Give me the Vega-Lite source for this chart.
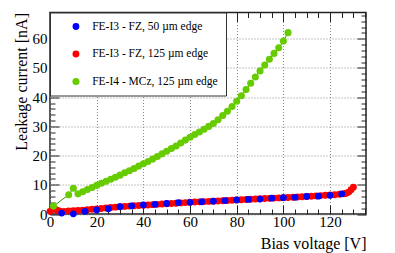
{
  "$schema": "https://vega.github.io/schema/vega-lite/v6.json",
  "autosize": {"type": "none"},
  "padding": {"left": 50, "top": 12.5, "right": 29, "bottom": 39},
  "width": 316,
  "height": 201.5,
  "background": "white",
  "config": {
    "view": {"stroke": "#222", "strokeWidth": 1.5},
    "font": "Liberation Serif",
    "axis": {"labelFont": "Liberation Serif", "titleFont": "Liberation Serif"},
    "legend": {"labelFont": "Liberation Serif"}
  },
  "datasets": {
    "iv": [
      {"s": "FE-I3 - FZ, 125 µm edge", "V": 0, "I": 0.9},
      {"s": "FE-I3 - FZ, 125 µm edge", "V": 1, "I": 1.5},
      {"s": "FE-I3 - FZ, 125 µm edge", "V": 2, "I": 1.7},
      {"s": "FE-I3 - FZ, 125 µm edge", "V": 3, "I": 1.3},
      {"s": "FE-I3 - FZ, 125 µm edge", "V": 4, "I": 1.0},
      {"s": "FE-I3 - FZ, 125 µm edge", "V": 6, "I": 0.9},
      {"s": "FE-I3 - FZ, 125 µm edge", "V": 8, "I": 1.0},
      {"s": "FE-I3 - FZ, 125 µm edge", "V": 10, "I": 1.1},
      {"s": "FE-I3 - FZ, 125 µm edge", "V": 12, "I": 1.2},
      {"s": "FE-I3 - FZ, 125 µm edge", "V": 14, "I": 1.3},
      {"s": "FE-I3 - FZ, 125 µm edge", "V": 16, "I": 1.45},
      {"s": "FE-I3 - FZ, 125 µm edge", "V": 18, "I": 1.6},
      {"s": "FE-I3 - FZ, 125 µm edge", "V": 20, "I": 1.75},
      {"s": "FE-I3 - FZ, 125 µm edge", "V": 22, "I": 1.9},
      {"s": "FE-I3 - FZ, 125 µm edge", "V": 24, "I": 2.05},
      {"s": "FE-I3 - FZ, 125 µm edge", "V": 26, "I": 2.2},
      {"s": "FE-I3 - FZ, 125 µm edge", "V": 28, "I": 2.35},
      {"s": "FE-I3 - FZ, 125 µm edge", "V": 30, "I": 2.5},
      {"s": "FE-I3 - FZ, 125 µm edge", "V": 32, "I": 2.6},
      {"s": "FE-I3 - FZ, 125 µm edge", "V": 34, "I": 2.7},
      {"s": "FE-I3 - FZ, 125 µm edge", "V": 36, "I": 2.8},
      {"s": "FE-I3 - FZ, 125 µm edge", "V": 38, "I": 2.9},
      {"s": "FE-I3 - FZ, 125 µm edge", "V": 40, "I": 3.0},
      {"s": "FE-I3 - FZ, 125 µm edge", "V": 42, "I": 3.1},
      {"s": "FE-I3 - FZ, 125 µm edge", "V": 44, "I": 3.2},
      {"s": "FE-I3 - FZ, 125 µm edge", "V": 46, "I": 3.3},
      {"s": "FE-I3 - FZ, 125 µm edge", "V": 48, "I": 3.4},
      {"s": "FE-I3 - FZ, 125 µm edge", "V": 50, "I": 3.5},
      {"s": "FE-I3 - FZ, 125 µm edge", "V": 52, "I": 3.6},
      {"s": "FE-I3 - FZ, 125 µm edge", "V": 54, "I": 3.7},
      {"s": "FE-I3 - FZ, 125 µm edge", "V": 56, "I": 3.8},
      {"s": "FE-I3 - FZ, 125 µm edge", "V": 58, "I": 3.9},
      {"s": "FE-I3 - FZ, 125 µm edge", "V": 60, "I": 4.0},
      {"s": "FE-I3 - FZ, 125 µm edge", "V": 62, "I": 4.08},
      {"s": "FE-I3 - FZ, 125 µm edge", "V": 64, "I": 4.16},
      {"s": "FE-I3 - FZ, 125 µm edge", "V": 66, "I": 4.24},
      {"s": "FE-I3 - FZ, 125 µm edge", "V": 68, "I": 4.32},
      {"s": "FE-I3 - FZ, 125 µm edge", "V": 70, "I": 4.4},
      {"s": "FE-I3 - FZ, 125 µm edge", "V": 72, "I": 4.48},
      {"s": "FE-I3 - FZ, 125 µm edge", "V": 74, "I": 4.56},
      {"s": "FE-I3 - FZ, 125 µm edge", "V": 76, "I": 4.64},
      {"s": "FE-I3 - FZ, 125 µm edge", "V": 78, "I": 4.72},
      {"s": "FE-I3 - FZ, 125 µm edge", "V": 80, "I": 4.8},
      {"s": "FE-I3 - FZ, 125 µm edge", "V": 82, "I": 4.88},
      {"s": "FE-I3 - FZ, 125 µm edge", "V": 84, "I": 4.96},
      {"s": "FE-I3 - FZ, 125 µm edge", "V": 86, "I": 5.04},
      {"s": "FE-I3 - FZ, 125 µm edge", "V": 88, "I": 5.12},
      {"s": "FE-I3 - FZ, 125 µm edge", "V": 90, "I": 5.2},
      {"s": "FE-I3 - FZ, 125 µm edge", "V": 92, "I": 5.28},
      {"s": "FE-I3 - FZ, 125 µm edge", "V": 94, "I": 5.36},
      {"s": "FE-I3 - FZ, 125 µm edge", "V": 96, "I": 5.44},
      {"s": "FE-I3 - FZ, 125 µm edge", "V": 98, "I": 5.52},
      {"s": "FE-I3 - FZ, 125 µm edge", "V": 100, "I": 5.6},
      {"s": "FE-I3 - FZ, 125 µm edge", "V": 102, "I": 5.68},
      {"s": "FE-I3 - FZ, 125 µm edge", "V": 104, "I": 5.76},
      {"s": "FE-I3 - FZ, 125 µm edge", "V": 106, "I": 5.84},
      {"s": "FE-I3 - FZ, 125 µm edge", "V": 108, "I": 5.92},
      {"s": "FE-I3 - FZ, 125 µm edge", "V": 110, "I": 6.0},
      {"s": "FE-I3 - FZ, 125 µm edge", "V": 112, "I": 6.1},
      {"s": "FE-I3 - FZ, 125 µm edge", "V": 114, "I": 6.2},
      {"s": "FE-I3 - FZ, 125 µm edge", "V": 116, "I": 6.3},
      {"s": "FE-I3 - FZ, 125 µm edge", "V": 118, "I": 6.4},
      {"s": "FE-I3 - FZ, 125 µm edge", "V": 120, "I": 6.5},
      {"s": "FE-I3 - FZ, 125 µm edge", "V": 122, "I": 6.62},
      {"s": "FE-I3 - FZ, 125 µm edge", "V": 124, "I": 6.75},
      {"s": "FE-I3 - FZ, 125 µm edge", "V": 126, "I": 6.95},
      {"s": "FE-I3 - FZ, 125 µm edge", "V": 127, "I": 7.1},
      {"s": "FE-I3 - FZ, 125 µm edge", "V": 128, "I": 7.5},
      {"s": "FE-I3 - FZ, 125 µm edge", "V": 129, "I": 8.3},
      {"s": "FE-I3 - FZ, 125 µm edge", "V": 130, "I": 9.2},
      {"s": "FE-I3 - FZ, 50 µm edge", "V": 5, "I": 0.3},
      {"s": "FE-I3 - FZ, 50 µm edge", "V": 10, "I": 0.05},
      {"s": "FE-I3 - FZ, 50 µm edge", "V": 15, "I": 0.9},
      {"s": "FE-I3 - FZ, 50 µm edge", "V": 20, "I": 1.4},
      {"s": "FE-I3 - FZ, 50 µm edge", "V": 25, "I": 1.8},
      {"s": "FE-I3 - FZ, 50 µm edge", "V": 30, "I": 2.5},
      {"s": "FE-I3 - FZ, 50 µm edge", "V": 35, "I": 2.8},
      {"s": "FE-I3 - FZ, 50 µm edge", "V": 40, "I": 3.1},
      {"s": "FE-I3 - FZ, 50 µm edge", "V": 45, "I": 3.3},
      {"s": "FE-I3 - FZ, 50 µm edge", "V": 50, "I": 3.6},
      {"s": "FE-I3 - FZ, 50 µm edge", "V": 55, "I": 3.9},
      {"s": "FE-I3 - FZ, 50 µm edge", "V": 60, "I": 4.0},
      {"s": "FE-I3 - FZ, 50 µm edge", "V": 65, "I": 4.2},
      {"s": "FE-I3 - FZ, 50 µm edge", "V": 70, "I": 4.4},
      {"s": "FE-I3 - FZ, 50 µm edge", "V": 75, "I": 4.6},
      {"s": "FE-I3 - FZ, 50 µm edge", "V": 80, "I": 4.8},
      {"s": "FE-I3 - FZ, 50 µm edge", "V": 85, "I": 5.0},
      {"s": "FE-I3 - FZ, 50 µm edge", "V": 90, "I": 5.1},
      {"s": "FE-I3 - FZ, 50 µm edge", "V": 95, "I": 5.4},
      {"s": "FE-I3 - FZ, 50 µm edge", "V": 100, "I": 5.6},
      {"s": "FE-I3 - FZ, 50 µm edge", "V": 105, "I": 5.7},
      {"s": "FE-I3 - FZ, 50 µm edge", "V": 110, "I": 6.0},
      {"s": "FE-I3 - FZ, 50 µm edge", "V": 115, "I": 6.1},
      {"s": "FE-I3 - FZ, 50 µm edge", "V": 120, "I": 6.4},
      {"s": "FE-I3 - FZ, 50 µm edge", "V": 125, "I": 6.9},
      {"s": "FE-I4 - MCz, 125 µm edge", "V": 1.5, "I": 2.7},
      {"s": "FE-I4 - MCz, 125 µm edge", "V": 8, "I": 6.6},
      {"s": "FE-I4 - MCz, 125 µm edge", "V": 10, "I": 8.8},
      {"s": "FE-I4 - MCz, 125 µm edge", "V": 12, "I": 6.9},
      {"s": "FE-I4 - MCz, 125 µm edge", "V": 14, "I": 7.6},
      {"s": "FE-I4 - MCz, 125 µm edge", "V": 16, "I": 8.4},
      {"s": "FE-I4 - MCz, 125 µm edge", "V": 18, "I": 9.1},
      {"s": "FE-I4 - MCz, 125 µm edge", "V": 20, "I": 9.8},
      {"s": "FE-I4 - MCz, 125 µm edge", "V": 22, "I": 10.5},
      {"s": "FE-I4 - MCz, 125 µm edge", "V": 24, "I": 11.2},
      {"s": "FE-I4 - MCz, 125 µm edge", "V": 26, "I": 11.9},
      {"s": "FE-I4 - MCz, 125 µm edge", "V": 28, "I": 12.6},
      {"s": "FE-I4 - MCz, 125 µm edge", "V": 30, "I": 13.3},
      {"s": "FE-I4 - MCz, 125 µm edge", "V": 32, "I": 14.1},
      {"s": "FE-I4 - MCz, 125 µm edge", "V": 34, "I": 14.8},
      {"s": "FE-I4 - MCz, 125 µm edge", "V": 36, "I": 15.6},
      {"s": "FE-I4 - MCz, 125 µm edge", "V": 38, "I": 16.4},
      {"s": "FE-I4 - MCz, 125 µm edge", "V": 40, "I": 17.2},
      {"s": "FE-I4 - MCz, 125 µm edge", "V": 42, "I": 18.0},
      {"s": "FE-I4 - MCz, 125 µm edge", "V": 44, "I": 18.8},
      {"s": "FE-I4 - MCz, 125 µm edge", "V": 46, "I": 19.7},
      {"s": "FE-I4 - MCz, 125 µm edge", "V": 48, "I": 20.6},
      {"s": "FE-I4 - MCz, 125 µm edge", "V": 50, "I": 21.5},
      {"s": "FE-I4 - MCz, 125 µm edge", "V": 52, "I": 22.4},
      {"s": "FE-I4 - MCz, 125 µm edge", "V": 54, "I": 23.3},
      {"s": "FE-I4 - MCz, 125 µm edge", "V": 56, "I": 24.3},
      {"s": "FE-I4 - MCz, 125 µm edge", "V": 58, "I": 25.3},
      {"s": "FE-I4 - MCz, 125 µm edge", "V": 60, "I": 26.3},
      {"s": "FE-I4 - MCz, 125 µm edge", "V": 62, "I": 27.2},
      {"s": "FE-I4 - MCz, 125 µm edge", "V": 64, "I": 28.1},
      {"s": "FE-I4 - MCz, 125 µm edge", "V": 66, "I": 29.0},
      {"s": "FE-I4 - MCz, 125 µm edge", "V": 68, "I": 30.0},
      {"s": "FE-I4 - MCz, 125 µm edge", "V": 70, "I": 31.0},
      {"s": "FE-I4 - MCz, 125 µm edge", "V": 72, "I": 32.3},
      {"s": "FE-I4 - MCz, 125 µm edge", "V": 74, "I": 33.7},
      {"s": "FE-I4 - MCz, 125 µm edge", "V": 76, "I": 35.2},
      {"s": "FE-I4 - MCz, 125 µm edge", "V": 78, "I": 36.8},
      {"s": "FE-I4 - MCz, 125 µm edge", "V": 80, "I": 38.6},
      {"s": "FE-I4 - MCz, 125 µm edge", "V": 82, "I": 40.5},
      {"s": "FE-I4 - MCz, 125 µm edge", "V": 84, "I": 42.6},
      {"s": "FE-I4 - MCz, 125 µm edge", "V": 86, "I": 44.8},
      {"s": "FE-I4 - MCz, 125 µm edge", "V": 88, "I": 46.9},
      {"s": "FE-I4 - MCz, 125 µm edge", "V": 90, "I": 49.0},
      {"s": "FE-I4 - MCz, 125 µm edge", "V": 92, "I": 51.0},
      {"s": "FE-I4 - MCz, 125 µm edge", "V": 94, "I": 53.0},
      {"s": "FE-I4 - MCz, 125 µm edge", "V": 96, "I": 55.0},
      {"s": "FE-I4 - MCz, 125 µm edge", "V": 98, "I": 56.9},
      {"s": "FE-I4 - MCz, 125 µm edge", "V": 100, "I": 59.2},
      {"s": "FE-I4 - MCz, 125 µm edge", "V": 102, "I": 62.1}
    ]
  },
  "data": {"name": "iv"},
  "resolve": {"axis": {"x": "independent", "y": "independent"}},
  "layer": [
    {
      "transform": [{"filter": "datum.s === 'FE-I4 - MCz, 125 µm edge'"}],
      "mark": {"type": "line", "color": "#3d8c00", "strokeWidth": 1},
      "encoding": {
        "x": {
          "field": "V", "type": "quantitative",
          "scale": {"domain": [0, 135.4], "nice": false, "zero": false},
          "axis": {
            "orient": "bottom",
            "title": "Bias voltage [V]",
            "titleFont": "Liberation Serif", "titleFontSize": 16, "titleFontWeight": "normal",
            "titleColor": "#000", "titleAnchor": "end", "titlePadding": 2,
            "values": [0,5,10,15,20,25,30,35,40,45,50,55,60,65,70,75,80,85,90,95,100,105,110,115,120,125,130,135],
            "labelExpr": "datum.value % 20 === 0 ? datum.label : ''",
            "labelFont": "Liberation Serif", "labelFontSize": 15, "labelColor": "#000",
            "labelOverlap": false, "labelFlush": false, "labelBound": false,
            "labelPadding": 9,
            "domain": false,
            "tickColor": "#222", "tickWidth": 1,
            "tickSize": {"condition": {"test": "datum.value % 20 === 0", "value": -9}, "value": -5},
            "grid": true, "gridColor": "#888", "gridDash": [1, 2], "gridWidth": 1,
            "gridOpacity": {"condition": {"test": "datum.value % 20 === 0", "value": 1}, "value": 0}
          }
        },
        "y": {
          "field": "I", "type": "quantitative",
          "scale": {"domain": [0, 69], "nice": false, "zero": false},
          "axis": {
            "orient": "left",
            "title": "Leakage current [nA]",
            "titleFont": "Liberation Serif", "titleFontSize": 16, "titleFontWeight": "normal",
            "titleColor": "#000", "titleAnchor": "end", "titlePadding": 3,
            "values": [0,2,4,6,8,10,12,14,16,18,20,22,24,26,28,30,32,34,36,38,40,42,44,46,48,50,52,54,56,58,60,62,64,66,68],
            "labelExpr": "datum.value % 10 === 0 ? datum.label : ''",
            "labelFont": "Liberation Serif", "labelFontSize": 15, "labelColor": "#000",
            "labelOverlap": false, "labelFlush": false, "labelBound": false,
            "labelPadding": 12,
            "domain": false,
            "tickColor": "#222", "tickWidth": 1,
            "tickSize": {"condition": {"test": "datum.value % 10 === 0", "value": -9}, "value": -5},
            "grid": true, "gridColor": "#888", "gridDash": [1, 2], "gridWidth": 1,
            "gridOpacity": {"condition": {"test": "datum.value % 10 === 0", "value": 1}, "value": 0}
          }
        }
      }
    },
    {
      "mark": {"type": "point", "filled": true, "opacity": 1},
      "encoding": {
        "x": {
          "field": "V", "type": "quantitative",
          "axis": {
            "orient": "top", "title": null, "labels": false, "domain": false, "grid": false,
            "values": [0,5,10,15,20,25,30,35,40,45,50,55,60,65,70,75,80,85,90,95,100,105,110,115,120,125,130,135],
            "tickColor": "#222", "tickWidth": 1,
            "tickSize": {"condition": {"test": "datum.value % 20 === 0", "value": -9}, "value": -5}
          }
        },
        "y": {
          "field": "I", "type": "quantitative",
          "axis": {
            "orient": "right", "title": null, "labels": false, "domain": false, "grid": false,
            "values": [0,2,4,6,8,10,12,14,16,18,20,22,24,26,28,30,32,34,36,38,40,42,44,46,48,50,52,54,56,58,60,62,64,66,68],
            "tickColor": "#222", "tickWidth": 1,
            "tickSize": {"condition": {"test": "datum.value % 10 === 0", "value": -9}, "value": -5}
          }
        },
        "color": {
          "field": "s", "type": "nominal",
          "scale": {
            "domain": ["FE-I3 - FZ, 50 µm edge", "FE-I3 - FZ, 125 µm edge", "FE-I4 - MCz, 125 µm edge"],
            "range": ["#0000ff", "#ff0000", "#66cc00"]
          },
          "legend": {
            "orient": "none", "legendX": 0, "legendY": 0, "title": null,
            "fillColor": "white", "strokeColor": "#333",
            "padding": 8, "symbolType": "circle", "symbolSize": 34,
            "symbolStrokeWidth": 0, "symbolOffset": 12.2,
            "labelFont": "Liberation Serif", "labelFontSize": 11.5, "labelColor": "#000",
            "labelOffset": 10.5, "labelLimit": 300, "rowPadding": 15.5, "clipHeight": 12
          }
        },
        "size": {
          "field": "s", "type": "nominal", "legend": null,
          "scale": {
            "domain": ["FE-I3 - FZ, 50 µm edge", "FE-I3 - FZ, 125 µm edge", "FE-I4 - MCz, 125 µm edge"],
            "range": [46, 50, 44]
          }
        }
      }
    }
  ]
}
